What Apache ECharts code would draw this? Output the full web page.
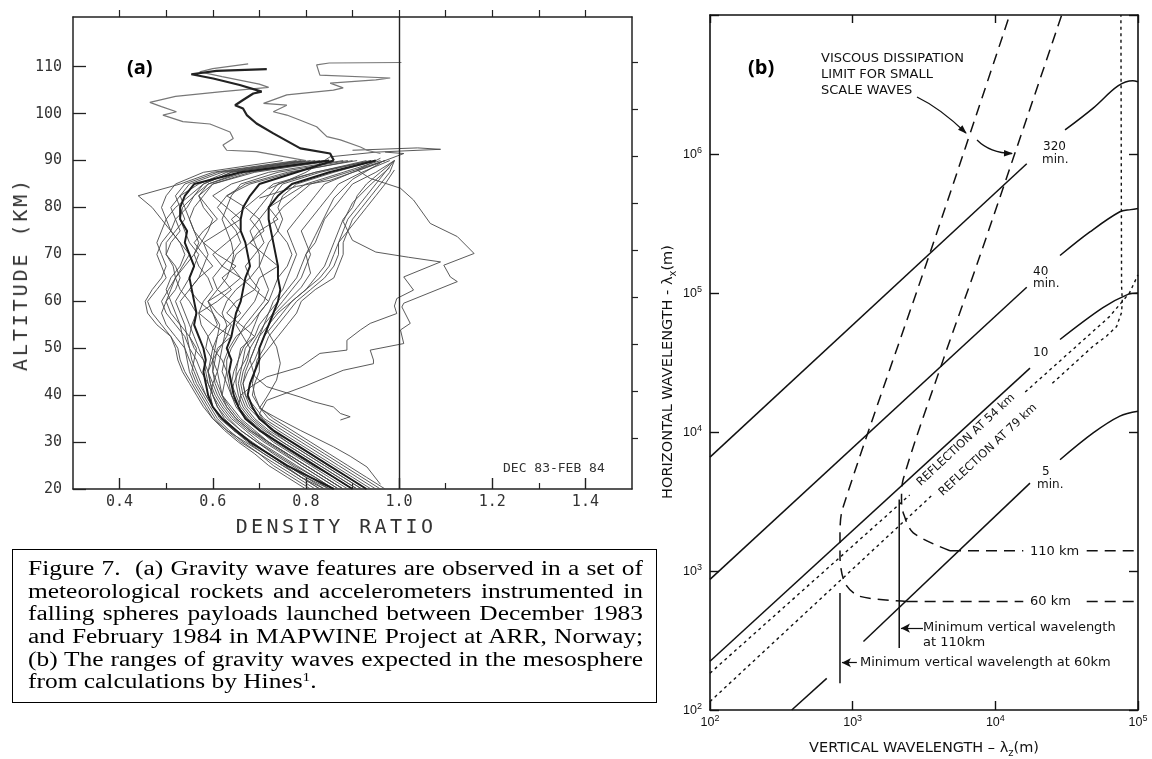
<!DOCTYPE html>
<html><head><meta charset="utf-8">
<script src="https://cdn.jsdelivr.net/npm/echarts/dist/echarts.min.js"></script>
<style>
html,body{margin:0;padding:0;background:#fff;}
#chart{position:absolute;left:0;top:0;width:1152px;height:759px;}
.ttl{position:absolute;font-family:'DejaVu Sans Mono',monospace;color:#333;white-space:nowrap;transform-origin:center center;}
#caption{position:absolute;left:12px;top:549px;width:645px;height:154px;box-sizing:border-box;border:1.5px solid #000;
 padding:7.2px 0 0 14.5px;overflow:hidden;}
#capin{width:484px;transform:scaleX(1.2707);transform-origin:0 0;
 font-family:'Liberation Serif','Times New Roman',serif;font-size:20px;line-height:22.6px;color:#000;}
#capin .ln{text-align:justify;text-align-last:justify;white-space:nowrap;}
#capin .ln.last{text-align-last:left;}
#capin sup{font-size:12px;vertical-align:7px;line-height:0;}
</style></head>
<body>
<div id="chart"></div>
<div class="ttl" id="ytA" style="left:19.5px;top:274px;font-size:20px;letter-spacing:2.9px;transform:translate(-50%,-50%) rotate(-90deg);">ALTITUDE (KM)</div>
<div class="ttl" id="xtA" style="left:336px;top:526px;font-size:20px;letter-spacing:3.4px;transform:translate(-50%,-50%);">DENSITY RATIO</div>
<div id="caption"><div id="capin">
<div class="ln">Figure 7.&nbsp; (a) Gravity wave features are observed in a set of</div>
<div class="ln">meteorological rockets and accelerometers instrumented in</div>
<div class="ln">falling spheres payloads launched between December 1983</div>
<div class="ln">and February 1984 in MAPWINE Project at ARR, Norway;</div>
<div class="ln">(b) The ranges of gravity waves expected in the mesosphere</div>
<div class="ln last">from calculations by Hines<sup>1</sup>.</div>
</div></div>
<script>
// ---------------- Panel (a) data: density ratio profiles vs altitude ----------------
const altitudeKm = [20,22.5,25,27.5,30,32.5,35,37.5,40,42.5,45,47.5,50,52.5,55,57.5,60,62.5,65,67.5,70,72.5,75,77.5,80,82.5,85,87.5,90];
const altitudeTicks = [20,30,40,50,60,70,80,90,100,110];
const densityTicks = [0.4,0.6,0.8,1.0,1.2,1.4];

const p01 = [.86,.81,.76,.72,.68,.65,.62,.60,.59,.585,.58,.585,.58,.57,.56,.565,.56,.555,.55,.56,.55,.54,.545,.53,.53,.54,.56,.66,.85];
const p02 = [.90,.86,.82,.78,.74,.70,.67,.655,.645,.64,.635,.64,.63,.64,.645,.65,.66,.665,.67,.68,.675,.67,.66,.66,.665,.68,.70,.78,.86];
const p03 = [.93,.89,.85,.81,.77,.73,.70,.685,.675,.68,.69,.70,.70,.71,.72,.73,.74,.745,.74,.74,.735,.73,.725,.72,.72,.74,.77,.85,.95];
const p04 = [.84,.79,.75,.71,.67,.63,.605,.59,.575,.56,.55,.545,.54,.52,.50,.49,.50,.52,.53,.52,.50,.51,.53,.52,.51,.53,.55,.62,.80];
const p05 = [.88,.84,.80,.76,.72,.69,.66,.64,.62,.61,.60,.605,.61,.64,.60,.57,.61,.64,.62,.65,.61,.58,.62,.66,.63,.60,.64,.72,.88];
const p06 = [.95,.91,.87,.83,.79,.75,.71,.69,.67,.665,.67,.68,.69,.70,.71,.73,.75,.77,.79,.80,.81,.80,.79,.81,.83,.85,.87,.92,.98];
const p07 = [.81,.77,.73,.70,.66,.63,.60,.585,.57,.555,.54,.53,.525,.51,.48,.46,.455,.47,.49,.50,.49,.48,.49,.50,.49,.50,.52,.58,.75];
const p08 = [.91,.87,.83,.79,.75,.71,.68,.66,.65,.64,.645,.655,.66,.69,.66,.63,.65,.69,.70,.74,.71,.68,.70,.74,.72,.76,.80,.88,.96];
const p09 = [.87,.83,.79,.75,.71,.675,.645,.625,.61,.60,.59,.595,.60,.59,.575,.57,.58,.60,.59,.57,.56,.575,.59,.60,.58,.57,.60,.69,.86];
const p10 = [.97,.93,.89,.85,.81,.77,.73,.70,.685,.69,.70,.70,.72,.74,.76,.78,.79,.82,.86,.87,.88,.88,.89,.90,.92,.94,.96,.98,.99];
const p11 = [.83,.79,.75,.71,.675,.645,.62,.60,.585,.57,.56,.55,.54,.535,.53,.52,.51,.50,.51,.53,.54,.53,.51,.50,.52,.55,.58,.64,.82];
const p12 = [.89,.85,.81,.77,.73,.70,.675,.655,.64,.63,.62,.625,.635,.65,.68,.70,.72,.69,.66,.64,.65,.68,.71,.70,.67,.70,.73,.82,.93];
const p13 = [.85,.81,.77,.73,.695,.66,.635,.615,.60,.59,.585,.58,.57,.56,.55,.54,.53,.55,.57,.58,.59,.58,.56,.55,.56,.58,.60,.68,.84];
const p14 = [.92,.88,.84,.80,.76,.72,.69,.67,.66,.655,.66,.665,.67,.69,.70,.72,.73,.75,.76,.77,.78,.77,.76,.78,.80,.82,.84,.90,.97];
const p15 = [.80,.76,.72,.69,.655,.625,.60,.58,.565,.55,.535,.525,.52,.51,.49,.47,.46,.48,.50,.49,.48,.49,.51,.49,.47,.44,.53,.60,.78];
const p16 = [.94,.90,.86,.82,.78,.74,.705,.68,.67,.665,.675,.69,.70,.71,.73,.75,.77,.80,.82,.84,.85,.86,.87,.88,.90,.91,.93,.96,.99];
const p17 = [.86,.82,.78,.74,.70,.67,.64,.62,.605,.595,.59,.60,.615,.63,.64,.61,.59,.63,.66,.62,.60,.63,.66,.64,.67,.63,.68,.77,.90];
const p18 = [.90,.86,.82,.78,.74,.705,.675,.655,.64,.635,.63,.63,.64,.655,.67,.69,.71,.72,.71,.70,.71,.72,.74,.75,.74,.75,.78,.86,.95];
const p19 = [.82,.78,.74,.70,.665,.635,.61,.595,.58,.565,.555,.56,.565,.55,.53,.51,.50,.51,.52,.54,.56,.57,.56,.55,.54,.53,.57,.63,.80];
const p20 = [.88,.84,.80,.76,.72,.685,.655,.635,.62,.615,.61,.615,.62,.625,.63,.62,.63,.65,.68,.70,.70,.69,.68,.70,.72,.73,.75,.83,.94];
const p21 = [.96,.92,.88,.84,.80,.76,.72,.70,.69,.685,.69,.695,.71,.72,.74,.76,.78,.81,.84,.86,.87,.87,.88,.89,.91,.93,.95,.97,.99];
const p22 = [.84,.80,.76,.72,.685,.65,.625,.61,.60,.59,.575,.565,.55,.545,.54,.53,.52,.535,.55,.56,.57,.55,.54,.53,.535,.56,.59,.67,.85];
const p23 = [.87,.83,.79,.755,.715,.68,.65,.63,.615,.605,.60,.60,.605,.61,.615,.60,.59,.61,.63,.64,.645,.64,.63,.62,.63,.64,.66,.74,.89];
const p24 = [.91,.87,.83,.79,.75,.715,.685,.665,.655,.65,.65,.655,.665,.68,.69,.70,.72,.73,.74,.76,.77,.76,.74,.73,.75,.78,.81,.89,.97];
const p25 = [.83,.79,.755,.72,.68,.645,.62,.60,.585,.575,.565,.555,.55,.54,.52,.50,.49,.505,.52,.515,.50,.50,.52,.54,.53,.52,.54,.61,.79];
const p26 = [.93,.89,.85,.81,.77,.73,.70,.675,.665,.66,.665,.675,.68,.695,.71,.72,.74,.76,.78,.79,.80,.82,.83,.84,.86,.88,.90,.95,.99];
const p27 = [.88,.84,.80,.76,.72,.68,.65,.63,.62,.625,.63,.62,.60,.61,.635,.66,.64,.61,.60,.62,.64,.66,.65,.63,.61,.63,.67,.76,.91];
const p28 = [.85,.80,.76,.72,.68,.645,.615,.60,.595,.60,.61,.60,.585,.59,.61,.60,.57,.55,.57,.60,.58,.56,.58,.61,.59,.57,.59,.66,.83];
const p29 = [.90,.86,.815,.775,.735,.70,.67,.65,.64,.645,.655,.67,.68,.665,.65,.67,.69,.70,.68,.67,.69,.71,.70,.68,.70,.72,.74,.82,.94];
const p30 = [.86,.82,.775,.735,.695,.66,.63,.61,.60,.595,.59,.58,.56,.55,.555,.565,.55,.53,.52,.535,.55,.53,.51,.52,.545,.56,.58,.64,.81];
const boldProfiles = [p01,p02,p03];
const thinProfiles = [p04,p05,p06,p07,p08,p09,p10,p11,p12,p13,p14,p15,p16,p17,p18,p19,p20,p21,p22,p23,p24,p25,p26,p27,p28,p29,p30];

// individual traces read as [density ratio, altitude km]
const topBold = [[0.86,90],[0.852,91.5],[0.788,92.6],[0.73,95.8],[0.694,97.9],[0.673,99.7],[0.665,101.1],[0.648,101.8],[0.665,102.9],[0.687,104.3],[0.705,104.7],[0.658,106.1],[0.601,107.5],[0.554,108.4],[0.608,109.1],[0.716,109.5]];
const topGrayLeft = [[0.80,90.0],[0.694,91.9],[0.63,92.2],[0.622,93.3],[0.644,94.7],[0.637,96.1],[0.594,97.8],[0.536,98.3],[0.493,99.7],[0.522,100.4],[0.49,101.5],[0.465,102.4],[0.52,103.7],[0.62,104.7],[0.72,105.6],[0.70,106.3],[0.62,107.9],[0.572,108.9],[0.60,109.6],[0.676,110.6]];
const topGrayRight = [[0.96,91.5],[0.931,92.2],[0.917,92.9],[0.874,94.4],[0.845,95.1],[0.823,97.2],[0.788,98.6],[0.759,99.7],[0.730,100.4],[0.759,101.8],[0.709,102.2],[0.759,104.0],[0.859,105.0],[0.88,105.5],[0.852,106.5],[0.95,107.2],[0.981,107.6],[0.83,108.2],[0.823,110.4],[0.85,110.8],[1.005,110.9]];
const outerA = [[0.92,20],[0.88,22.5],[0.84,25],[0.80,27.5],[0.76,30],[0.72,33],[0.70,36],[0.716,38.9],[0.80,42],[0.88,45.3],[0.945,46.7],[0.945,47.5],[0.938,49.6],[1.01,51.0],[1.003,53.9],[1.024,55.3],[1.006,58.8],[1.01,59.6],[1.125,64.2],[1.11,65.2],[1.096,67.7],[1.161,70.2],[1.125,73.8],[1.067,76.6],[1.031,81.6],[1.003,84.1],[0.938,86.2],[0.91,88],[0.96,90.5]];
const outerB = [[0.90,20],[0.86,22.5],[0.82,25],[0.78,27.5],[0.74,30],[0.70,32.5],[0.67,35],[0.655,37.5],[0.66,40],[0.685,42],[0.716,43.9],[0.788,46.0],[0.83,48.9],[0.888,49.6],[0.888,51.7],[0.917,53.9],[0.938,55.3],[0.995,57.4],[0.99,59],[0.995,60.6],[1.031,62.4],[1.01,65.2],[1.089,68.4],[1.02,69.4],[0.95,70.5],[0.90,73],[0.88,77],[0.90,81],[0.94,85],[0.98,88.5]];
const outerC = [[0.874,34.7],[0.895,35.4],[0.874,36.1],[0.859,37.5],[0.816,38.6],[0.788,39.6],[0.716,41.8],[0.69,44],[0.68,47.5],[0.69,50],[0.70,52.5],[0.72,55],[0.74,57.5],[0.77,60],[0.80,62.5],[0.83,65],[0.85,67.5],[0.86,70],[0.87,72.5],[0.89,75],[0.91,77.5],[0.93,80],[0.95,82.5],[0.97,85],[0.99,88]];
const outerD = [[0.96,21],[0.931,24.7],[0.895,27],[0.859,29.0],[0.788,32.5],[0.74,35],[0.70,37.2],[0.716,39.6],[0.737,43.2],[0.745,46.8],[0.737,50.3],[0.716,53.9],[0.73,57],[0.76,60],[0.79,63],[0.81,66],[0.80,70],[0.82,74],[0.84,78],[0.86,82],[0.90,86],[0.96,89.5]];
const spikeA = [[0.72,84],[0.80,87.5],[0.852,90.8],[0.95,91.8],[1.089,92.4],[1.04,92.7],[0.90,92.2]];
const spikeB = [[0.70,82],[0.78,84.5],[0.852,85.8],[0.93,88.5],[1.01,91.5],[0.97,91.8]];

// ---------------- Panel (b) data: [vertical wavelength m, horizontal wavelength m] ----------------
const period320a = [[1e2,6.6e3],[1.66e4,8.5e5]];
const period320b = [[3.08e4,1.49e6],[4.85e4,2.14e6],[7.24e4,3.09e6],[9.2e4,3.37e6],[1e5,3.31e6]];
const period40a = [[1e2,871],[1.66e4,1.1e5]];
const period40b = [[2.84e4,1.86e5],[4.6e4,2.75e5],[7.46e4,3.84e5],[8.9e4,3.98e5],[1e5,4.06e5]];
const period10a = [[1e2,224],[1.75e4,2.88e4]];
const period10b = [[2.84e4,4.63e4],[5.68e4,7.85e4],[8.5e4,9.77e4],[1e5,1e5]];
const period5a = [[374,1e2],[658,169]];
const period5b = [[1.19e3,311],[1.75e4,4.29e3]];
const period5c = [[2.84e4,6.31e3],[4.85e4,9.84e3],[7.46e4,1.3e4],[1e5,1.41e4]];
const refl54a = [[1e2,184],[2.51e3,3.52e3]];
const refl54b = [[1.62e4,1.94e4],[6.31e4,6.76e4],[8.71e4,1e5],[1e5,1.35e5]];
const refl79a = [[1e2,115],[3.55e3,3.46e3]];
const refl79b = [[2.51e4,2.24e4],[4.85e4,4.15e4],[6.03e4,4.9e4],[7.08e4,5.75e4],[7.67e4,7.24e4],[7.76e4,8.91e4],[7.67e4,1.12e5],[7.59e4,1e7]];
const visc60curve = [[2.39e3,604],[1.12e3,658],[883,820],[815,1.28e3],[815,1.88e3],[851,2.82e3],[3.57e3,2.09e5],[1.26e4,1e7]];
const visc60flatA = [[2.39e3,604],[1.57e4,604]];
const visc60flatB = [[4.37e4,604],[1e5,604]];
const visc110curve = [[4.81e3,1.4e3],[2.66e3,1.88e3],[2.26e3,2.63e3],[2.2e3,3.27e3],[2.26e3,4.57e3],[4.32e3,3.33e4],[7.8e3,1.85e5],[2.92e4,1e7]];
const visc110flatA = [[4.81e3,1.4e3],[1.57e4,1.4e3]];
const visc110flatB = [[4.37e4,1.4e3],[1e5,1.4e3]];
const minVert110 = [[2.12e3,3.27e3],[2.12e3,279]];
const minVert60 = [[815,695],[815,156]];
const arrow110 = [[3.11e3,388],[2.18e3,388]];
const arrow60 = [[1.07e3,219],[841,219]];

// ---------------- build ----------------
const chart = echarts.init(document.getElementById('chart'), null, {renderer:'canvas'});
const INK = '#111';
function line(data, xi, yi, style, extra){
  return Object.assign({type:'line', data:data, xAxisIndex:xi, yAxisIndex:yi, symbol:'none', showSymbol:false,
    animation:false, silent:true, clip:true, lineStyle:style}, extra||{});
}
const zip = arr => arr.map((v,i)=>[v, altitudeKm[i]]);
const series = [];
const thinA = {color:'#474747', width:0.9};
const boldA = {color:'#1c1c1c', width:2};
thinProfiles.forEach(p=>series.push(line(zip(p),0,0,thinA)));
[outerA,outerB,outerC,outerD,spikeA,spikeB].forEach(p=>series.push(line(p,0,0,thinA)));
series.push(line(topGrayLeft,0,0,{color:'#777',width:1.2}));
series.push(line(topGrayRight,0,0,{color:'#777',width:1.2}));
boldProfiles.forEach(p=>series.push(line(zip(p),0,0,boldA)));
series.push(line(topBold,0,0,{color:'#222',width:2.2}, {
  markLine:{silent:true, symbol:'none', animation:false, label:{show:false},
    lineStyle:{color:'#222', width:1.4, type:'solid'}, data:[{xAxis:1.0}]}
}));

const solidB = {color:INK, width:1.5};
const dotB = {color:INK, width:1.4, type:[3,3.5]};
const dashB = {color:INK, width:1.5, type:[11,7]};
[period320a,period40a,period10a,period5a,period5b,minVert110,minVert60].forEach(d=>series.push(line(d,3,2,solidB)));
[period320b,period40b,period10b,period5c].forEach(d=>series.push(line(d,3,2,solidB,{smooth:0.35})));
[refl54a,refl54b,refl79a,refl79b].forEach(d=>series.push(line(d,3,2,dotB)));
[visc60flatA,visc60flatB,visc110flatA,visc110flatB].forEach(d=>series.push(line(d,3,2,dashB)));
[visc60curve,visc110curve].forEach(d=>series.push(line(d,3,2,dashB,{smooth:0.3})));
[arrow110,arrow60].forEach(d=>series.push(line([],3,2,solidB,{
  markLine:{silent:true, animation:false, symbol:['none','arrow'], symbolSize:[7,9], label:{show:false},
    lineStyle:{color:INK,width:1.2,type:'solid'}, data:[[{coord:d[0]},{coord:d[1]}]]}
})));

const monoLabel = {fontFamily:'DejaVu Sans Mono', fontSize:15, color:'#333'};
const axLine = {show:true, lineStyle:{color:'#222', width:1.5}};
const bLine = {show:true, lineStyle:{color:INK, width:1.6}};
const rich = {
  b:{fontFamily:'Liberation Sans', fontSize:12.5, color:INK, lineHeight:15, verticalAlign:'bottom'},
  s:{fontFamily:'Liberation Sans', fontSize:9, color:INK, lineHeight:9, verticalAlign:'top'}
};
const pow10 = v => { const n = Math.round(Math.log10(v)); return '{b|10}{s|' + n + '}'; };

const tenths = [0.4,0.5,0.6,0.7,0.8,0.9,1.0,1.1,1.2,1.3,1.4];
const oddTenths = [0.5,0.7,0.9,1.1,1.3];
const rightTicks = [30.9,40.9,50.9,60.9,70.9,80.9,90.9,100.9,110.9];

const option = {
  backgroundColor:'#ffffff',
  animation:false,
  grid:[
    {left:73, top:17, width:559, height:472},
    {left:710, top:15, width:428, height:695}
  ],
  xAxis:[
    {gridIndex:0, type:'value', position:'bottom', min:0.3, max:1.5, axisLine:axLine, splitLine:{show:false},
      axisTick:{show:true, inside:true, length:11, customValues:densityTicks, lineStyle:{color:'#222',width:1.4}},
      axisLabel:Object.assign({show:true, margin:6, customValues:densityTicks, formatter:v=>v.toFixed(1)}, monoLabel)},
    {gridIndex:0, type:'value', position:'bottom', min:0.3, max:1.5, axisLine:{show:false}, splitLine:{show:false},
      axisTick:{show:true, inside:true, length:6, customValues:oddTenths, lineStyle:{color:'#222',width:1.2}},
      axisLabel:{show:false}},
    {gridIndex:0, type:'value', position:'top', min:0.3, max:1.5, axisLine:axLine, splitLine:{show:false},
      axisTick:{show:true, inside:false, length:7, customValues:tenths, lineStyle:{color:'#222',width:1.2}},
      axisLabel:{show:false}},
    {gridIndex:1, type:'log', logBase:10, position:'bottom', min:1e2, max:1e5, axisLine:bLine, splitLine:{show:false},
      axisTick:{show:true, inside:true, length:9, lineStyle:{color:INK,width:1.4}},
      minorTick:{show:false},
      axisLabel:{show:true, margin:4, formatter:pow10, rich:rich}},
    {gridIndex:1, type:'log', logBase:10, position:'top', min:1e2, max:1e5, axisLine:bLine, splitLine:{show:false},
      axisTick:{show:true, inside:true, length:8, lineStyle:{color:INK,width:1.4}}, axisLabel:{show:false}}
  ],
  yAxis:[
    {gridIndex:0, type:'value', position:'left', min:20, max:120.6, axisLine:axLine, splitLine:{show:false},
      axisTick:{show:true, inside:true, length:13, customValues:altitudeTicks, lineStyle:{color:'#222',width:1.3}},
      axisLabel:Object.assign({show:true, margin:11, customValues:altitudeTicks}, monoLabel)},
    {gridIndex:0, type:'value', position:'right', min:20, max:120.6, axisLine:axLine, splitLine:{show:false},
      axisTick:{show:true, inside:false, length:6, customValues:rightTicks, lineStyle:{color:'#222',width:1.2}},
      axisLabel:{show:false}},
    {gridIndex:1, type:'log', logBase:10, position:'left', min:1e2, max:1e7, axisLine:bLine, splitLine:{show:false},
      axisTick:{show:true, inside:true, length:9, lineStyle:{color:INK,width:1.4}},
      axisLabel:{show:true, margin:8, formatter:v=>Math.round(Math.log10(v))>=7?'':pow10(v), rich:rich}},
    {gridIndex:1, type:'log', logBase:10, position:'right', min:1e2, max:1e7, axisLine:bLine, splitLine:{show:false},
      axisTick:{show:true, inside:true, length:9, lineStyle:{color:INK,width:1.4}}, axisLabel:{show:false}}
  ],
  series:series,
  graphic:[]
};

// annotation text
const G = [];
function txt(x,y,text,font,opts){
  G.push(Object.assign({type:'text', x:x, y:y, silent:true, z:50,
    style:Object.assign({text:text, font:font, fill:INK, textAlign:'left', textVerticalAlign:'middle'}, (opts&&opts.style)||{})},
    (opts&&opts.el)||{}));
}
const boldF = 'bold 20px "Open Sans","Liberation Sans",sans-serif';
txt(127,68,'(a)',boldF,{style:{fill:'#000'}});
txt(748,68,'(b)',boldF,{style:{fill:'#000'}});
txt(503,469,'DEC 83-FEB 84','13px "DejaVu Sans Mono",monospace',{style:{fill:'#333'}});
const lab = '13px "DejaVu Sans",sans-serif';
const labS = '12px "DejaVu Sans",sans-serif';
txt(821,59,'VISCOUS DISSIPATION',lab);
txt(821,75,'LIMIT FOR SMALL',lab);
txt(821,91,'SCALE WAVES',lab);
txt(1043,147,'320',labS);
txt(1042,159.5,'min.',labS);
txt(1033,272,'40',labS);
txt(1033,284,'min.',labS);
txt(1033,353,'10',labS);
txt(1042,472,'5',labS);
txt(1037,484.5,'min.',labS);
txt(1030,552,'110 km',lab);
txt(1030,602,'60 km',lab);
txt(923,628,'Minimum vertical wavelength',lab);
txt(923,643,'at 110km',lab);
txt(860,662.5,'Minimum vertical wavelength at 60km',lab);
const rot = 43*Math.PI/180;
txt(966,440,'REFLECTION AT 54 km','11.5px "DejaVu Sans",sans-serif',{style:{textAlign:'center'}, el:{rotation:rot}});
txt(988,450,'REFLECTION AT 79 km','11.5px "DejaVu Sans",sans-serif',{style:{textAlign:'center'}, el:{rotation:rot}});
// axis titles for (b)
const titleRich = {a:{font:'14.5px "DejaVu Sans",sans-serif', fill:INK, lineHeight:17, verticalAlign:'bottom'},
          s:{font:'10px "DejaVu Sans",sans-serif', fill:INK, lineHeight:9, verticalAlign:'bottom', padding:[0,0,-3,0]}};
G.push({type:'text', x:667, y:372, rotation:Math.PI/2, silent:true, z:50,
  style:{text:'{a|HORIZONTAL WAVELENGTH - λ}{s|x}{a|(m)}', textAlign:'center', textVerticalAlign:'middle', rich:titleRich}});
G.push({type:'text', x:924, y:747, silent:true, z:50,
  style:{text:'{a|VERTICAL WAVELENGTH – λ}{s|z}{a|(m)}', textAlign:'center', textVerticalAlign:'middle', rich:titleRich}});
// curved arrows from the viscous label
function curveArrow(x1,y1,cx,cy,x2,y2){
  G.push({type:'bezierCurve', silent:true, z:50, shape:{x1:x1,y1:y1,cpx1:cx,cpy1:cy,x2:x2,y2:y2},
    style:{stroke:INK, lineWidth:1.3, fill:null}});
  let dx=x2-cx, dy=y2-cy; const L=Math.hypot(dx,dy); dx/=L; dy/=L;
  const bx=x2-8*dx, by=y2-8*dy, px=-dy*3.2, py=dx*3.2;
  G.push({type:'polygon', silent:true, z:50, shape:{points:[[x2+dx,y2+dy],[bx+px,by+py],[bx-px,by-py]]}, style:{fill:INK}});
}
curveArrow(917,97,940,108,966,133);
curveArrow(977,140,990,153,1012,153.5);
option.graphic = G;
chart.setOption(option);
</script>
</body></html>
